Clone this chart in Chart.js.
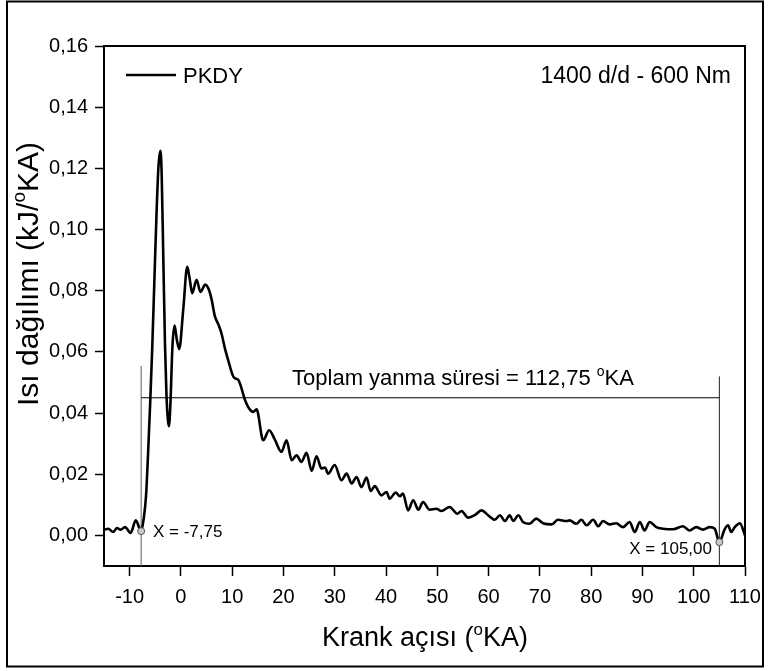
<!DOCTYPE html>
<html><head><meta charset="utf-8">
<script src="https://cdn.jsdelivr.net/npm/chart.js@4.4.0/dist/chart.umd.min.js"></script>
<style>html,body{margin:0;padding:0;background:#fff}</style>
</head><body>
<canvas id="c" width="771" height="671"></canvas>
<script>
// ---- data ----
const crankAngle = [-15,-14.2,-13.2,-12.5,-11.75,-10.9,-9.8,-8.8,-7.75,-7.3,-6.8,-6.4,-6.0,-5.6,-5.2,-4.8,-4.4,-4.0,-3.75,-3.45,-3.1,-2.8,-2.55,-2.34,-2.05,-1.65,-1.23,-0.8,-0.33,0.45,1.23,1.7,2.2,3.05,3.8,4.75,5.46,6.0,6.63,7.3,7.9,8.6,9.2,10.3,11.2,12.5,13.3,14.1,14.75,16.05,17.2,18.3,19.6,20.6,21.6,22.55,23.5,24.5,25.5,26.45,27.4,28.1,28.7,30.0,31.3,32.3,33.3,34.25,35.2,36.2,37.0,37.8,39.1,40.1,40.7,41.9,42.7,43.3,44.3,45.3,46.3,47.2,48.5,49.8,50.8,52.4,53.9,54.7,56.0,57.3,58.6,59.9,61.2,62.2,63.2,64.1,64.8,65.8,66.7,68.0,69.3,70.6,72.3,73.5,75.2,75.8,77.1,78.1,79.1,80.4,81.4,82.3,83.6,84.9,86.2,87.5,88.5,89.5,90.4,91.4,92.7,94.0,96.0,97.9,99.2,100.5,101.8,103.1,104.1,105.0,106.0,106.7,107.3,108.0,109.0,110];
const heatRelease = [0.0018,0.0022,0.0011,0.0024,0.0019,0.0027,0.0008,0.0049,0.0014,0.005,0.013,0.027,0.043,0.061,0.082,0.103,0.12,0.1257,0.118,0.092,0.062,0.045,0.038,0.0357,0.043,0.062,0.0686,0.064,0.0609,0.0738,0.0878,0.084,0.0792,0.0836,0.0796,0.082,0.0803,0.077,0.0716,0.069,0.0661,0.061,0.0574,0.0517,0.0508,0.0443,0.0415,0.0404,0.0412,0.0311,0.0344,0.0314,0.0273,0.0311,0.0246,0.0262,0.024,0.027,0.0211,0.0259,0.0219,0.0222,0.0202,0.023,0.018,0.0202,0.017,0.0191,0.0158,0.0189,0.0145,0.0161,0.0131,0.0142,0.012,0.014,0.0128,0.0137,0.0082,0.0115,0.0084,0.0109,0.0084,0.0087,0.008,0.0093,0.0071,0.008,0.0058,0.0066,0.0082,0.0066,0.0051,0.0066,0.0047,0.0066,0.0047,0.0066,0.0044,0.0038,0.0055,0.004,0.0036,0.0051,0.0047,0.0049,0.0038,0.0051,0.0033,0.0051,0.003,0.0047,0.0036,0.004,0.0027,0.0044,0.0011,0.0044,0.0016,0.0044,0.0027,0.0022,0.002,0.003,0.0016,0.0027,0.0019,0.0027,0.0022,-0.0022,0.0019,0.0033,0.0011,0.0027,0.004,0.0];
const xTicks = [-10,0,10,20,30,40,50,60,70,80,90,100,110];
const yTicks = [0,0.02,0.04,0.06,0.08,0.10,0.12,0.14,0.16];
const startX = [-7.75], startY = [0.0014];
const endX = [105.0], endY = [-0.0022];
const durationLevel = [0.045];
const startLineTop = [0.0554], endLineTop = [0.052];

const FONT = '"Liberation Sans", Arial, sans-serif';

function richText(ctx, parts, x, y, size, align) {
  const supSize = Math.round(size * 0.62);
  let w = 0;
  parts.forEach(p => { ctx.font = (p.sup ? supSize : size) + 'px ' + FONT; w += ctx.measureText(p.t).width; });
  let cx = align === 'center' ? x - w / 2 : (align === 'right' ? x - w : x);
  ctx.textAlign = 'left'; ctx.textBaseline = 'alphabetic';
  parts.forEach(p => {
    ctx.font = (p.sup ? supSize : size) + 'px ' + FONT;
    ctx.fillText(p.t, cx, p.sup ? y - size * 0.42 : y);
    cx += ctx.measureText(p.t).width;
  });
}

const decor = {
  id: 'decor',
  afterDraw(chart) {
    const ctx = chart.ctx, a = chart.chartArea;
    ctx.save();
    ctx.fillStyle = '#000'; ctx.strokeStyle = '#000';
    // outer frame
    ctx.lineWidth = 2;
    ctx.strokeRect(7, 1.5, 756, 665);
    // plot frame top/right
    ctx.lineWidth = 2;
    ctx.beginPath();
    ctx.moveTo(a.left, a.top); ctx.lineTo(a.right, a.top); ctx.lineTo(a.right, a.bottom);
    ctx.stroke();
    // legend
    ctx.lineWidth = 2.5;
    ctx.beginPath(); ctx.moveTo(126, 75); ctx.lineTo(176, 75); ctx.stroke();
    ctx.font = '22px ' + FONT; ctx.textBaseline = 'alphabetic'; ctx.textAlign = 'left';
    ctx.fillText('PKDY', 183, 83);
    ctx.font = '23px ' + FONT; ctx.textAlign = 'right';
    ctx.fillText('1400 d/d - 600 Nm', 731, 83);
    // annotations
    richText(ctx, [{t:'Toplam yanma süresi = 112,75 '},{t:'o',sup:true},{t:'KA'}], 463, 385, 22, 'center');
    ctx.font = '17px ' + FONT; ctx.textAlign = 'left';
    ctx.fillText('X = -7,75', 153, 537);
    ctx.textAlign = 'right';
    ctx.fillText('X = 105,00', 712, 554);
    // axis titles
    richText(ctx, [{t:'Krank açısı ('},{t:'o',sup:true},{t:'KA)'}], 425, 646, 27, 'center');
    ctx.translate(38, 274); ctx.rotate(-Math.PI / 2);
    richText(ctx, [{t:'Isı dağılımı (kJ/'},{t:'o',sup:true},{t:'KA)'}], 0, 0, 30, 'center');
    ctx.restore();
  }
};

const pts = (xs, ys) => xs.map((x, i) => ({x, y: ys[i]}));

new Chart(document.getElementById('c'), {
  type: 'line',
  data: {
    datasets: [
      { data: pts(crankAngle, heatRelease), borderColor: '#000', borderWidth: 2.6, pointRadius: 0,
        cubicInterpolationMode: 'monotone', order: 1 },
      { data: pts(startX.concat(endX), startY.concat(endY)), showLine: false, pointRadius: 3.5,
        pointBackgroundColor: '#c8c8c8', pointBorderColor: '#555', pointBorderWidth: 1, order: 0 },
      { data: [{x: startX[0], y: durationLevel[0]}, {x: endX[0], y: durationLevel[0]}],
        borderColor: '#000', borderWidth: 1, pointRadius: 0, tension: 0, order: 2 },
      { data: [{x: startX[0], y: -0.01}, {x: startX[0], y: startLineTop[0]}],
        borderColor: '#7a7a7a', borderWidth: 1.2, pointRadius: 0, tension: 0, order: 3 },
      { data: [{x: endX[0], y: -0.01}, {x: endX[0], y: endLineTop[0]}],
        borderColor: '#222', borderWidth: 1, pointRadius: 0, tension: 0, order: 3 }
    ]
  },
  options: {
    responsive: false, animation: false, devicePixelRatio: 1,
    layout: { padding: { top: 46, right: 26, left: 0, bottom: 0 } },
    plugins: { legend: { display: false }, tooltip: { enabled: false } },
    scales: {
      x: {
        type: 'linear', min: -15, max: 110,
        afterFit: s => { s.height = 105; },
        afterBuildTicks: s => { s.ticks = xTicks.map(v => ({value: v})); },
        ticks: { color: '#000', font: { family: FONT, size: 20 }, padding: 9, maxRotation: 0, autoSkip: false,
                 callback: v => String(v) },
        grid: { drawOnChartArea: false, tickLength: 10, color: '#000', tickWidth: 1.5 },
        border: { color: '#000', width: 2 }
      },
      y: {
        type: 'linear', min: -0.01, max: 0.16,
        afterFit: s => { s.width = 104; },
        afterBuildTicks: s => { s.ticks = yTicks.map(v => ({value: v})); },
        ticks: { color: '#000', font: { family: FONT, size: 20 }, padding: 7, autoSkip: false,
                 callback: v => v.toFixed(2).replace('.', ',') },
        grid: { drawOnChartArea: false, tickLength: 9, color: '#000', tickWidth: 1.5 },
        border: { color: '#000', width: 2 }
      }
    }
  },
  plugins: [decor]
});
</script>
</body></html>
